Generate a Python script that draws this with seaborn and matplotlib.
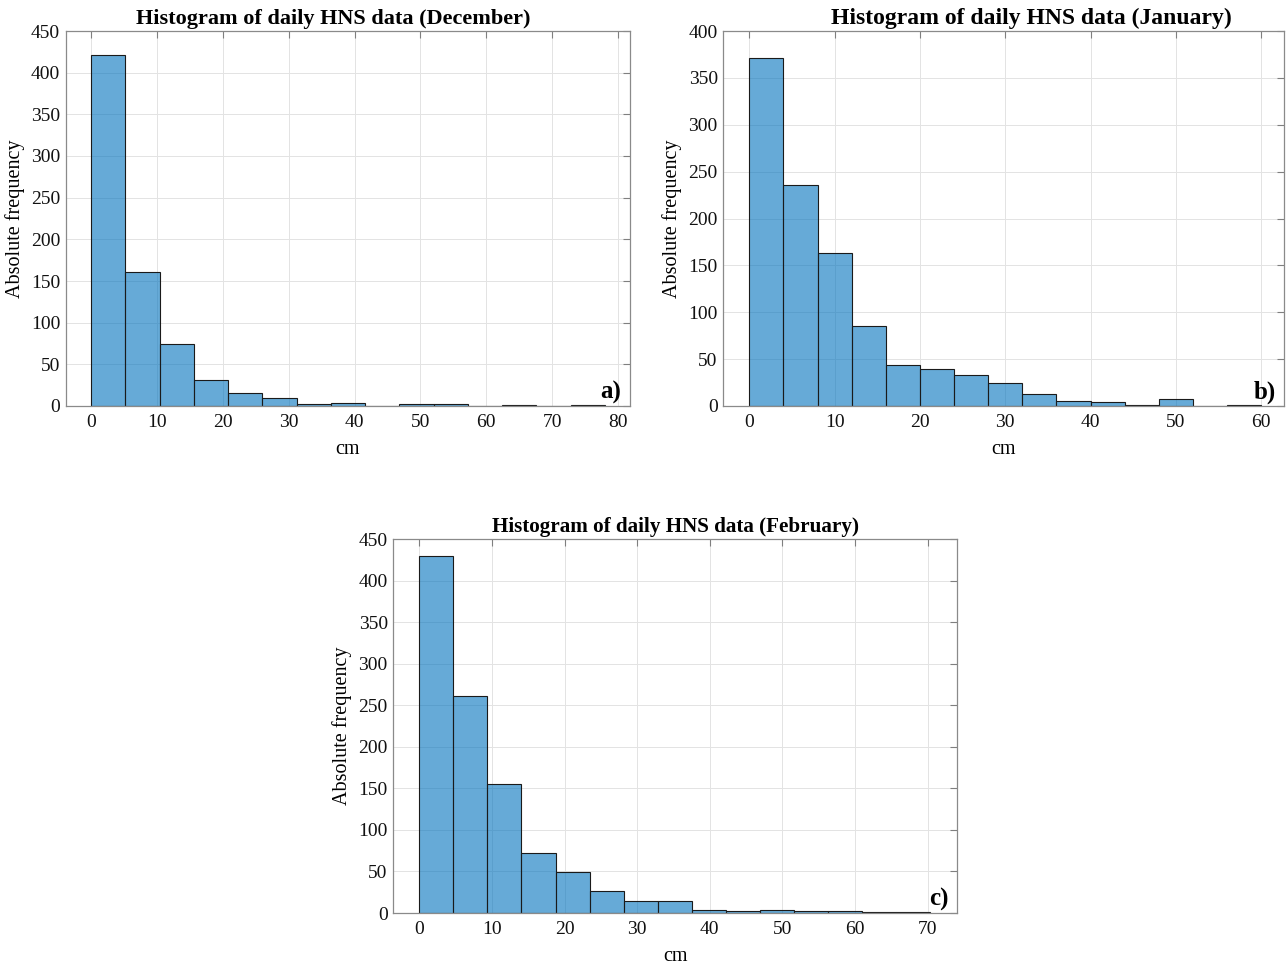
import numpy as np
import pandas as pd
import matplotlib
matplotlib.use("Agg")
import matplotlib.pyplot as plt
import seaborn as sns

# ---- data ----
dec_counts = [421, 161, 75, 31, 16, 10, 2, 4, 0, 2, 3, 0, 1, 0, 1]
dec_binwidth = 5.2
jan_counts = [371, 236, 163, 85, 44, 39, 33, 25, 13, 5, 4, 1, 7, 0, 1]
jan_binwidth = 4.0
feb_counts = [430, 261, 155, 72, 49, 27, 15, 14, 4, 2, 4, 2, 3, 1, 1]
feb_binwidth = 4.69

titles = ["Histogram of daily HNS data (December)",
          "Histogram of daily HNS data (January)",
          "Histogram of daily HNS data (February)"]
panel_tags = ["a)", "b)", "c)"]
xticks_list = [list(range(0, 81, 10)), list(range(0, 61, 10)), list(range(0, 71, 10))]
yticks_list = [list(range(0, 451, 50)), list(range(0, 401, 50)), list(range(0, 451, 50))]
xlims = [(-3.84, 81.8), (-3.05, 62.7), (-3.58, 74.0)]
xlabel = "cm"
ylabel = "Absolute frequency"

sns.set_theme(style="white")
plt.rcParams['font.family'] = ['Liberation Serif', 'DejaVu Serif']
plt.rcParams['text.color'] = 'black'
plt.rcParams['axes.labelcolor'] = 'black'

fig = plt.figure(figsize=(12.87, 9.66), dpi=100)
W, H = 1287, 966
boxes = [(65.7, 630, 31, 406), (723.3, 1284.3, 31, 406), (393.3, 956.7, 539, 913)]
title_x = [0.475, 0.55, 0.5]
title_size = [16.0, 17.0, 15.2]

face = "#0072BD"
for i, (counts, bw) in enumerate([(dec_counts, dec_binwidth),
                                  (jan_counts, jan_binwidth),
                                  (feb_counts, feb_binwidth)]):
    l, r, t, b = boxes[i]
    ax = fig.add_axes([l / W, 1 - b / H, (r - l) / W, (b - t) / H])
    n = len(counts)
    centers = (np.arange(n) + 0.5) * bw
    df = pd.DataFrame({"x": centers, "w": counts})
    ax.set_axisbelow(True)
    ax.grid(True, color="#e3e3e3", lw=0.7)
    sns.histplot(data=df, x="x", weights="w", binwidth=bw, binrange=(0, n * bw), ax=ax,
                 color=face, alpha=0.6, edgecolor="#1a1a1a", linewidth=0.8)
    ax.set_xlim(*xlims[i])
    ax.set_ylim(yticks_list[i][0], yticks_list[i][-1])
    ax.set_xticks(xticks_list[i])
    ax.set_yticks(yticks_list[i])
    ax.tick_params(direction="in", length=5, width=0.8, top=True, right=True,
                   labelsize=14, colors="#7f7f7f", labelcolor="#111111")
    ax.tick_params(axis="x", pad=6)
    ax.tick_params(axis="y", pad=4)
    for s in ax.spines.values():
        s.set_color("#8a8a8a")
        s.set_linewidth(0.9)
    ax.set_title(titles[i], fontsize=title_size[i], fontweight="bold", pad=5,
                 color="black", x=title_x[i])
    ax.set_xlabel(xlabel, fontsize=14.5)
    ax.set_ylabel(ylabel, fontsize=14.5)
    ax.xaxis.set_label_coords(0.5, -0.09)
    ax.yaxis.set_label_coords(-0.073, 0.5)
    ax.text(0.985, 0.005, panel_tags[i], transform=ax.transAxes, ha="right", va="bottom",
            fontsize=18, fontweight="bold", color="black")

fig.savefig("out.png", dpi=100)
